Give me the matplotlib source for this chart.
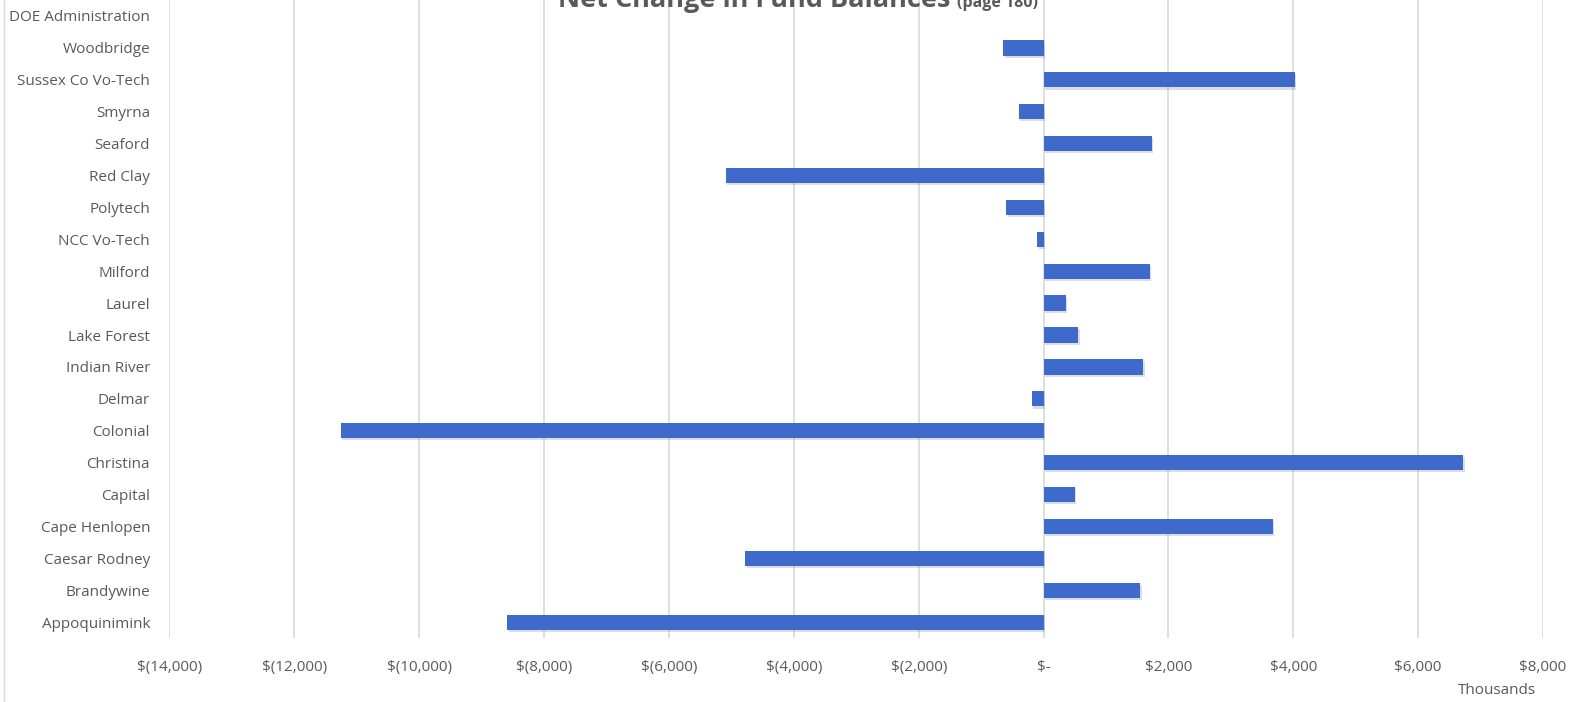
import matplotlib
matplotlib.use("Agg")
import matplotlib.pyplot as plt
import matplotlib.patheffects as pe
from matplotlib.lines import Line2D
from matplotlib.ticker import FuncFormatter

categories = ["Appoquinimink", "Brandywine", "Caesar Rodney", "Cape Henlopen", "Capital",
              "Christina", "Colonial", "Delmar", "Indian River", "Lake Forest", "Laurel",
              "Milford", "NCC Vo-Tech", "Polytech", "Red Clay", "Seaford", "Smyrna",
              "Sussex Co Vo-Tech", "Woodbridge", "DOE Administration"]
values = [-8590, 1550, -4780, 3670, 500,
          6720, -11260, -190, 1600, 550, 355,
          1700, -100, -600, -5090, 1730, -400,
          4020, -650, 0]
xticks = [-14000, -12000, -10000, -8000, -6000, -4000, -2000, 0, 2000, 4000, 6000, 8000]

plt.rcParams['font.family'] = ['Open Sans', 'DejaVu Sans']
grey = '#595959'

fig = plt.figure(figsize=(15.81, 7.02), dpi=100)
ax = fig.add_axes([0.1072, 0.091, 0.8688, 0.909])

ypos = list(range(len(categories)))
bars = ax.barh(ypos, values, height=0.48, color='#3E6BCB', zorder=3)
for b in bars:
    b.set_path_effects([pe.SimplePatchShadow(offset=(1.2, -1.5), alpha=0.15), pe.Normal()])
ax.set_yticks(ypos)
ax.set_yticklabels(categories, fontsize=11, color=grey)
ax.set_ylim(-0.5, len(categories) - 0.5)

ax.set_xlim(-14000, 8000)
ax.set_xticks(xticks)

def fmt(v, pos):
    if v == 0:
        return "$-"
    if v < 0:
        return "$({:,.0f})".format(-v)
    return "${:,.0f}".format(v)

ax.xaxis.set_major_formatter(FuncFormatter(fmt))
ax.tick_params(axis='x', labelsize=11, colors=grey, length=0, pad=16)
ax.tick_params(axis='y', length=0, pad=14)
ax.grid(axis='x', color='#D9D9D9', linewidth=1.2, zorder=0)
for s in ax.spines.values():
    s.set_visible(False)

# chart frame edge on the left
fig.add_artist(Line2D([4 / 1581, 4 / 1581], [0, 1], color='#D9D9D9', linewidth=1.0,
                      transform=fig.transFigure))

fig.text(0.947, 0.006, "Thousands", fontsize=11, color=grey, ha='center', va='bottom')

ttl_y = 1 - 7 / 702
fig.text(0.601, ttl_y, "Net Change in Fund Balances", fontsize=19.5, fontweight='bold',
         color=grey, ha='right', va='baseline')
fig.text(0.6055, ttl_y, "(page 180)", fontsize=11.5, fontweight='bold',
         color=grey, ha='left', va='baseline')

fig.savefig("out.png", dpi=100)
